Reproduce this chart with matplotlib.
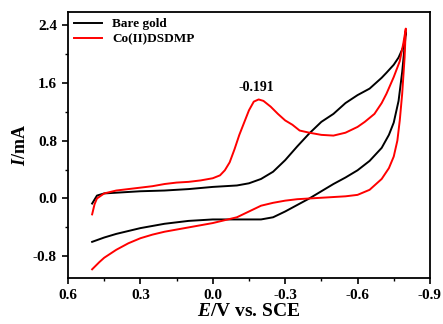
import matplotlib.pyplot as plt
import numpy as np
from matplotlib.ticker import MultipleLocator

# Bare gold: forward (lower) branch then return (upper) branch
e_bare = [0.5, 0.45, 0.4, 0.35, 0.3, 0.25, 0.2, 0.15, 0.1, 0.05, 0.0, -0.05, -0.1, -0.15, -0.2,
          -0.25, -0.3, -0.35, -0.4, -0.45, -0.5, -0.55, -0.6, -0.65, -0.7, -0.73, -0.75, -0.77,
          -0.785, -0.795, -0.8,
          -0.79, -0.77, -0.75, -0.72, -0.7, -0.65, -0.6, -0.55, -0.5, -0.45, -0.4, -0.35, -0.3,
          -0.25, -0.2, -0.15, -0.1, -0.05, 0.0, 0.1, 0.2, 0.3, 0.4, 0.45, 0.48, 0.5]
i_bare = [-0.60, -0.54, -0.49, -0.45, -0.41, -0.38, -0.35, -0.33, -0.31, -0.30, -0.29, -0.29, -0.29,
          -0.29, -0.29, -0.26, -0.18, -0.09, 0.00, 0.10, 0.20, 0.29, 0.39, 0.52, 0.70, 0.88, 1.05,
          1.35, 1.75, 2.10, 2.30,
          2.10, 1.95, 1.85, 1.74, 1.67, 1.52, 1.43, 1.32, 1.17, 1.06, 0.90, 0.72, 0.53, 0.37,
          0.27, 0.21, 0.18, 0.17, 0.16, 0.13, 0.11, 0.10, 0.08, 0.07, 0.04, -0.07]

# Co(II)DSDMP modified electrode
e_co = [0.5, 0.47, 0.45, 0.4, 0.35, 0.3, 0.25, 0.2, 0.15, 0.1, 0.05, 0.0, -0.05, -0.1, -0.15, -0.2,
        -0.25, -0.3, -0.35, -0.4, -0.45, -0.5, -0.55, -0.6, -0.65, -0.7, -0.73, -0.75, -0.765,
        -0.775, -0.785, -0.795, -0.8,
        -0.79, -0.775, -0.75, -0.72, -0.7, -0.67, -0.63, -0.6, -0.55, -0.5, -0.45, -0.4, -0.36,
        -0.33, -0.3, -0.27, -0.24, -0.21, -0.19, -0.17, -0.15, -0.13, -0.11, -0.09, -0.07, -0.05,
        -0.03, 0.0, 0.05, 0.1, 0.15, 0.2, 0.25, 0.3, 0.35, 0.4, 0.45, 0.48, 0.49, 0.5]
i_co = [-0.98, -0.88, -0.82, -0.71, -0.62, -0.55, -0.50, -0.46, -0.43, -0.40, -0.37, -0.34, -0.30,
        -0.26, -0.18, -0.10, -0.06, -0.03, -0.01, 0.00, 0.01, 0.02, 0.03, 0.05, 0.12, 0.27, 0.42,
        0.58, 0.80, 1.08, 1.45, 1.95, 2.35,
        2.15, 1.90, 1.68, 1.45, 1.32, 1.17, 1.06, 0.99, 0.91, 0.87, 0.88, 0.91, 0.94,
        1.02, 1.08, 1.17, 1.27, 1.35, 1.37, 1.34, 1.22, 1.05, 0.88, 0.68, 0.50, 0.39,
        0.32, 0.28, 0.25, 0.23, 0.22, 0.20, 0.17, 0.15, 0.13, 0.11, 0.07, 0.00, -0.08, -0.22]

peak_e = -0.191
peak_label = '-0.191'

plt.rcParams['font.family'] = 'Liberation Serif'
plt.rcParams['font.weight'] = 'bold'
plt.rcParams['mathtext.fontset'] = 'custom'
plt.rcParams['mathtext.it'] = 'Liberation Serif:italic:bold'
plt.rcParams['mathtext.rm'] = 'Liberation Serif:bold'

fig = plt.figure(figsize=(4.43, 3.24), dpi=100)
ax = fig.add_axes([0.1535, 0.142, 0.817, 0.821])

ax.plot(e_bare, i_bare, color='black', lw=1.4, label='Bare gold')
ax.plot(e_co, i_co, color='red', lw=1.4, label='Co(II)DSDMP')

ax.text(peak_e + 0.01, 1.44, peak_label, ha='center', va='bottom', fontsize=10, fontweight='bold')

ax.set_xlim(0.6, -0.9)
ax.set_ylim(-1.1, 2.58)
ax.xaxis.set_major_locator(MultipleLocator(0.3))
ax.xaxis.set_minor_locator(MultipleLocator(0.15))
ax.yaxis.set_major_locator(MultipleLocator(0.8))
ax.yaxis.set_minor_locator(MultipleLocator(0.4))
ax.tick_params(which='major', direction='out', length=4, width=1.2, labelsize=11, pad=4)
ax.tick_params(which='minor', direction='out', length=2.5, width=1.0)
ax.set_xticklabels([f'{v:.1f}' for v in ax.get_xticks()])
ax.set_yticklabels([f'{v:.1f}' for v in ax.get_yticks()])
for s in ax.spines.values():
    s.set_linewidth(1.3)

ax.set_xlabel(r'$\mathit{E}$/V vs. SCE', fontsize=14, fontweight='bold', labelpad=1)
ax.set_ylabel(r'$\mathit{I}$/mA', fontsize=13, fontweight='bold', labelpad=3)

ax.legend(loc='upper left', frameon=False, prop={'size': 9.5, 'weight': 'bold'},
          handlelength=2.1, borderaxespad=0.15, borderpad=0.3, handletextpad=0.8,
          labelspacing=0.25)

plt.savefig('out.png')
